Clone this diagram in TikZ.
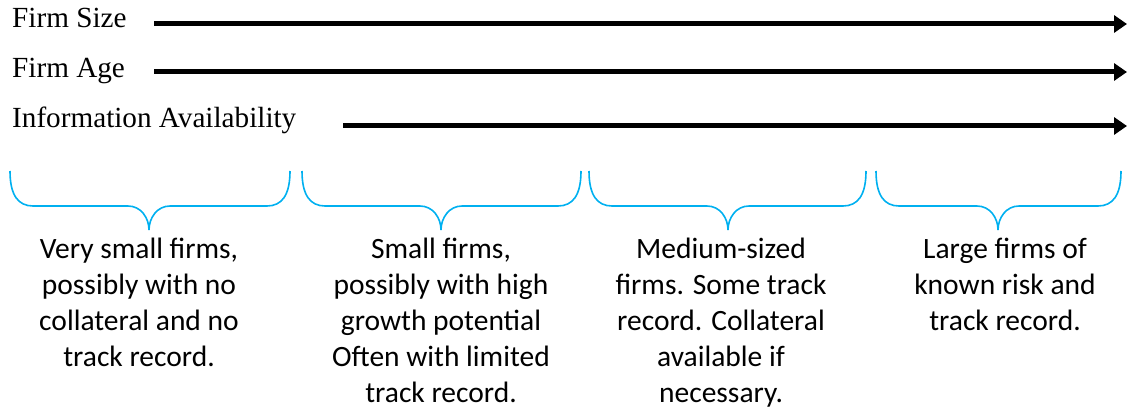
\documentclass[tikz,border=0pt]{standalone}
\usepackage{fontspec}
\setmainfont{Liberation Serif}
\newfontfamily\bodyfont{Carlito}
\usetikzlibrary{arrows.meta}
\definecolor{bracecol}{HTML}{00B0F0}
\tikzset{
  axisarrow/.style={line width=5pt,-{Triangle[length=13pt,width=17pt]}},
  axislabel/.style={anchor=base west,inner sep=0pt,font=\fontsize{29.2}{34}\selectfont},
  bracestyle/.style={draw=bracecol,line width=1.6pt},
  desc/.style={anchor=north,inner sep=0pt,align=center,font=\bodyfont\fontsize{29.5}{36}\selectfont}
}
\newcommand\firmbrace[3]{%
  \draw[bracestyle] (#1,171) .. controls (#1,195) and ({#1+8},206) .. ({#1+23},206)
    -- ({#2-21},206) .. controls ({#2-8},206) and (#2,218) .. (#2,230)
    .. controls (#2,218) and ({#2+8},206) .. ({#2+21},206)
    -- ({#3-23},206) .. controls ({#3-8},206) and (#3,195) .. (#3,171);}
\begin{document}
\begin{tikzpicture}[x=1pt,y=-1pt]
\useasboundingbox (0,0) rectangle (1127,409);
\node[axislabel] (lsize) at (12,28) {Firm Size};
\node[axislabel] (lage) at (12,78) {Firm Age};
\node[axislabel] (linfo) at (12,128) {Information Availability};
\coordinate (s1) at (154,24);
\coordinate (e1) at (1127,24);
\coordinate (s2) at (154,72);
\coordinate (e2) at (1127,72);
\coordinate (s3) at (343,126);
\coordinate (e3) at (1127,126);
\draw[axisarrow] (s1) -- (e1);
\draw[axisarrow] (s2) -- (e2);
\draw[axisarrow] (s3) -- (e3);
\firmbrace{10}{149}{290}
\firmbrace{302}{441}{581}
\firmbrace{589}{728}{866}
\firmbrace{876}{998}{1121}
\node[desc] (c1) at (139,237.5) {Very small firms,\\possibly with no\\collateral and no\\track record.};
\node[desc] (c2) at (441,237.5) {Small firms,\\possibly with high\\growth potential\\Often with limited\\track record.};
\node[desc] (c3) at (721,237.5) {Medium-sized\\firms. Some track\\record. Collateral\\available if\\necessary.};
\node[desc] (c4) at (1005,237.5) {Large firms of\\known risk and\\track record.};
\end{tikzpicture}
\end{document}
